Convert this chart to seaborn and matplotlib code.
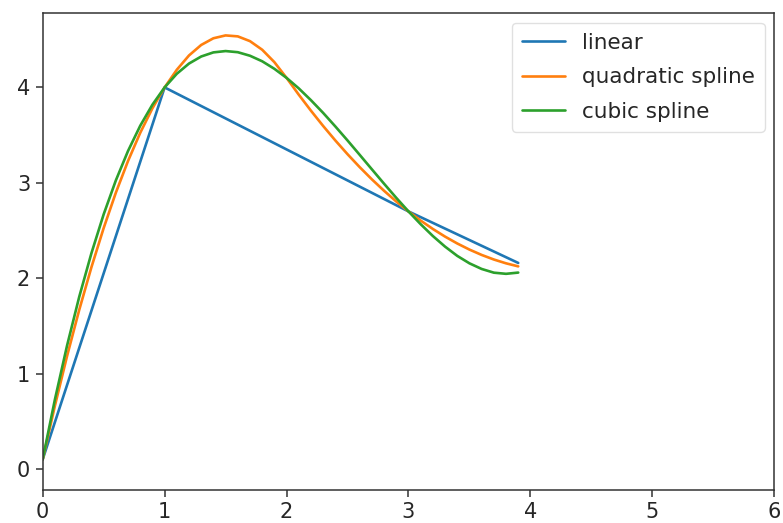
import matplotlib
matplotlib.use("Agg")
import matplotlib.pyplot as plt
import seaborn as sns
import pandas as pd

# Knot points of the linear interpolation
x_linear = [0.0, 1.0, 3.0, 3.9]
y_linear = [0.1, 4.0, 2.7, 2.16]

# Sample positions of the smooth curves
x_smooth = [0.0, 0.1, 0.2, 0.3, 0.4, 0.5, 0.6, 0.7, 0.8, 0.9,
            1.0, 1.1, 1.2, 1.3, 1.4, 1.5, 1.6, 1.7, 1.8, 1.9,
            2.0, 2.1, 2.2, 2.3, 2.4, 2.5, 2.6, 2.7, 2.8, 2.9,
            3.0, 3.1, 3.2, 3.3, 3.4, 3.5, 3.6, 3.7, 3.8, 3.9]

y_quadratic = [0.100, 0.661, 1.184, 1.669, 2.116, 2.525, 2.896, 3.229, 3.524, 3.781,
               4.000, 4.185, 4.335, 4.445, 4.515, 4.545, 4.535, 4.485, 4.395, 4.265,
               4.100, 3.924, 3.756, 3.596, 3.444, 3.300, 3.164, 3.036, 2.916, 2.804,
               2.700, 2.604, 2.516, 2.436, 2.364, 2.300, 2.244, 2.196, 2.156, 2.124]

y_cubic = [0.100, 0.727, 1.294, 1.806, 2.263, 2.669, 3.025, 3.334, 3.598, 3.819,
           4.000, 4.143, 4.250, 4.324, 4.367, 4.381, 4.369, 4.332, 4.274, 4.195,
           4.100, 3.990, 3.866, 3.733, 3.591, 3.444, 3.293, 3.141, 2.990, 2.842,
           2.700, 2.566, 2.442, 2.331, 2.234, 2.156, 2.097, 2.058, 2.046, 2.059]

series_labels = ["linear", "quadratic spline", "cubic spline"]
x_ticks = [0, 1, 2, 3, 4, 5, 6]
y_ticks = [0, 1, 2, 3, 4]

df_lin = pd.DataFrame({"x": x_linear, "y": y_linear})
df_quad = pd.DataFrame({"x": x_smooth, "y": y_quadratic})
df_cub = pd.DataFrame({"x": x_smooth, "y": y_cubic})

sns.set_style("ticks")
plt.rcParams["font.family"] = ["DejaVu Sans"]

fig = plt.figure(figsize=(7.83, 5.23), dpi=100)
ax = fig.add_axes([0.0545, 0.0631, 0.9344, 0.9115])

lw = 1.9
sns.lineplot(data=df_lin, x="x", y="y", ax=ax, color="#1f77b4", lw=lw,
             label=series_labels[0], sort=False, estimator=None)
sns.lineplot(data=df_quad, x="x", y="y", ax=ax, color="#ff7f0e", lw=lw,
             label=series_labels[1], sort=False, estimator=None)
sns.lineplot(data=df_cub, x="x", y="y", ax=ax, color="#2ca02c", lw=lw,
             label=series_labels[2], sort=False, estimator=None)

ax.set_xlim(0, 6)
ax.set_ylim(-0.22, 4.777)
ax.set_xticks(x_ticks)
ax.set_yticks(y_ticks)
ax.set_xlabel("")
ax.set_ylabel("")
ax.tick_params(axis="both", labelsize=15, length=5, width=1.1,
               color="#333333", labelcolor="#262626", direction="out", pad=4)
for s in ax.spines.values():
    s.set_visible(True)
    s.set_linewidth(1.1)
    s.set_color("#333333")

leg = ax.legend(loc="upper right", fontsize=15.5, frameon=True,
                handlelength=2.0, borderaxespad=0.45, labelspacing=0.68,
                borderpad=0.45)
leg.get_frame().set_edgecolor("#d9d9d9")
leg.get_frame().set_linewidth(1.0)
for t in leg.get_texts():
    t.set_color("#262626")

fig.savefig("out.png", dpi=100)
